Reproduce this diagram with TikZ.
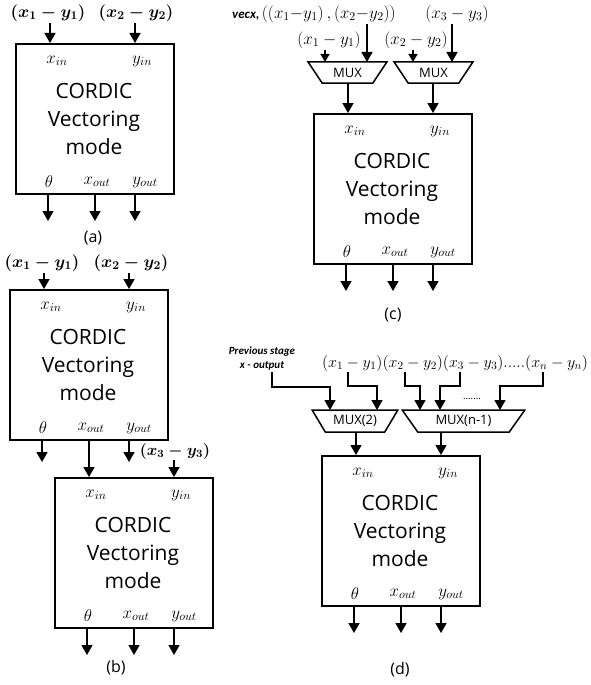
\documentclass[tikz,border=0pt]{standalone}
\usepackage{fix-cm}
\usepackage[no-math]{fontspec}
\setmainfont{Open Sans}
\newfontfamily\notefont{Carlito}
\usetikzlibrary{arrows.meta,shapes.geometric,positioning}

\tikzset{
	cordicbox/.style={draw, line width=2.4pt, anchor=north west, minimum width=158, minimum height=150, inner sep=0pt},
	port/.style={font=\fontsize{17}{19}\selectfont, inner sep=1pt},
	blocktext/.style={align=center, font=\fontsize{21}{28}\selectfont},
	sig/.style={line width=1.5pt, -{Triangle[width=11pt,length=10pt]}},
	sigsmall/.style={line width=1.5pt, -{Triangle[width=9pt,length=8pt]}},
	inlbl/.style={font=\fontsize{17}{19}\selectfont\boldmath, inner sep=1pt},
	inlblsmall/.style={font=\fontsize{16}{18}\selectfont\boldmath, inner sep=1pt},
	inlblthin/.style={font=\fontsize{17}{19}\selectfont, inner sep=1pt},
	note/.style={font=\notefont\fontsize{11}{14}\selectfont\bfseries\itshape, align=center, inner sep=1pt},
	mux/.style={draw, line width=1.5pt, trapezium, shape border rotate=180, trapezium stretches=true, trapezium angle=50, minimum height=21, inner sep=0pt, font=\fontsize{13}{14}\selectfont},
	caption/.style={font=\fontsize{16}{18}\selectfont}
}

\newcommand{\cordicblock}[1]{
	\node[cordicbox] (#1) at (0,0) {};
	\node[port] (#1-xin) at (42,18) {$x_{in}$};
	\node[port] (#1-yin) at (127,18) {$y_{in}$};
	\node[blocktext] (#1-txt) at (79,76) {CORDIC\\Vectoring\\mode};
	\node[port] (#1-th) at (34,139) {$\theta$};
	\node[port] (#1-xo) at (82,139) {$x_{out}$};
	\node[port] (#1-yo) at (130,139) {$y_{out}$};
	\coordinate (#1-i1) at (35,0);
	\coordinate (#1-i2) at (120,0);
	\coordinate (#1-o1) at (33,150);
	\coordinate (#1-o2) at (80,150);
	\coordinate (#1-o3) at (120,150);
	\coordinate (#1-e1) at (33,178);
	\coordinate (#1-e2) at (80,178);
	\coordinate (#1-e3) at (120,178);
}

\begin{document}
\begin{tikzpicture}[x=1pt, y=-1pt]
	\useasboundingbox (0,0) rectangle (591,685);

	% (a) single block
	\begin{scope}[shift={(15,43)}]
		\cordicblock{a}
	\end{scope}
	\node[inlbl] (a-t1) at (48,13) {$(x_1 - y_1)$};
	\node[inlbl] (a-t2) at (136,13) {$(x_2 - y_2)$};
	\draw[sig] (a-i1 |- a-t1.south) -- (a-i1);
	\draw[sig] (a-i2 |- a-t2.south) -- (a-i2);
	\foreach \k in {1,2,3}
		\draw[sig] (a-o\k) -- (a-e\k);
	\node[caption] (a-cap) at (93,238) {(a)};

	% (b) two blocks in cascade
	\begin{scope}[shift={(9,289)}]
		\cordicblock{b1}
	\end{scope}
	\begin{scope}[shift={(54,477)}]
		\cordicblock{b2}
	\end{scope}
	\node[inlbl] (b1-t1) at (42,263) {$(x_1 - y_1)$};
	\node[inlbl] (b1-t2) at (131,263) {$(x_2 - y_2)$};
	\draw[sig] (b1-i1 |- b1-t1.south) -- (b1-i1);
	\draw[sig] (b1-i2 |- b1-t2.south) -- (b1-i2);
	\draw[sig] (b1-o1) -- ++(0,23) coordinate (b1-s1);
	\draw[sig] (b1-o2) -- (b2-i1);
	\draw[sig] (b1-o3) -- ++(0,23) coordinate (b1-s3);
	\node[inlblsmall] (b2-t2) at (175,451) {$(x_3 - y_3)$};
	\draw[sig] (b2-i2 |- b2-t2.south) -- (b2-i2);
	\foreach \k in {1,2,3}
		\draw[sig] (b2-o\k) -- (b2-e\k);
	\node[caption] (b-cap) at (116,668) {(b)};

	% (c) block with two muxes
	\begin{scope}[shift={(313,113)}]
		\cordicblock{c}
	\end{scope}
	\node[anchor=west, inner sep=1pt] (c-vec) at (231,14) {{\notefont\fontsize{13}{15}\selectfont\bfseries\itshape vecx,} {\fontsize{17}{19}\selectfont$((x_1{-}y_1)\,,(x_2{-}y_2))$}};
	\node[inlblthin] (c-t3) at (457,14) {$(x_3 - y_3)$};
	\node[inlblthin] (c-t1) at (329,40) {$(x_1 - y_1)$};
	\node[inlblthin] (c-t2) at (416,40) {$(x_2 - y_2)$};
	\node[mux, minimum width=79] (c-m1) at (347.5,72.5) {MUX};
	\node[mux, minimum width=79] (c-m2) at (433.5,72.5) {MUX};
	\coordinate (c-m1-a) at (325,62);
	\coordinate (c-m1-b) at (367,62);
	\coordinate (c-m2-a) at (413,62);
	\coordinate (c-m2-b) at (452,62);
	\draw[sigsmall] (c-m1-a |- c-t1.south) -- (c-m1-a);
	\draw[sig] (c-m1-b |- c-vec.south) -- (c-m1-b);
	\draw[sigsmall] (c-m2-a |- c-t2.south) -- (c-m2-a);
	\draw[sig] (c-m2-b |- c-t3.south) -- (c-m2-b);
	\draw[sig] (c-i1 |- c-m1.south) -- (c-i1);
	\draw[sig] (c-i2 |- c-m2.south) -- (c-i2);
	\foreach \k in {1,2,3}
		\draw[sig] (c-o\k) -- (c-e\k);
	\node[caption] (c-cap) at (393,315) {(c)};

	% (d) block with mux(2) and mux(n-1)
	\begin{scope}[shift={(321,455)}]
		\cordicblock{d}
	\end{scope}
	\node[note] (d-prev) at (262,359) {Previous stage\\x - output};
	\node[inlblthin, font=\fontsize{16}{18}\selectfont] (d-top) at (455,363) {$(x_1 - y_1)(x_2 - y_2)(x_3 - y_3).....(x_n - y_n)$};
	\node[mux, minimum width=86, minimum height=22] (d-m1) at (355,421) {MUX(2)};
	\node[mux, minimum width=123, minimum height=22] (d-m2) at (463.5,421) {MUX(n-1)};
	\node[font=\notefont\fontsize{10}{12}\selectfont] (d-dots) at (472,399) {.......};
	\coordinate (d-k0) at (272,387);
	\coordinate (d-k1) at (348,386);
	\coordinate (d-k2) at (405,386);
	\coordinate (d-k3) at (460,386);
	\coordinate (d-k4) at (543,386);
	\coordinate (d-m1-a) at (330,410);
	\coordinate (d-m1-b) at (377,410);
	\coordinate (d-m2-a) at (420,410);
	\coordinate (d-m2-b) at (440,410);
	\coordinate (d-m2-c) at (500,410);
	\draw[sig] (d-k0 |- d-prev.south) -- (d-k0) -| (d-m1-a);
	\draw[sig] (d-k1 |- d-top.south) -- (d-k1) -| (d-m1-b);
	\draw[sig] (d-k2 |- d-top.south) -- (d-k2) -| (d-m2-a);
	\draw[sig] (d-k3 |- d-top.south) -- (d-k3) -| (d-m2-b);
	\draw[sig] (d-k4 |- d-top.south) -- (d-k4) -| (d-m2-c);
	\draw[sig] (d-i1 |- d-m1.south) -- (d-i1);
	\draw[sig] (d-i2 |- d-m2.south) -- (d-i2);
	\foreach \k in {1,2,3}
		\draw[sig] (d-o\k) -- (d-e\k);
	\node[caption] (d-cap) at (400,670) {(d)};
\end{tikzpicture}
\end{document}
